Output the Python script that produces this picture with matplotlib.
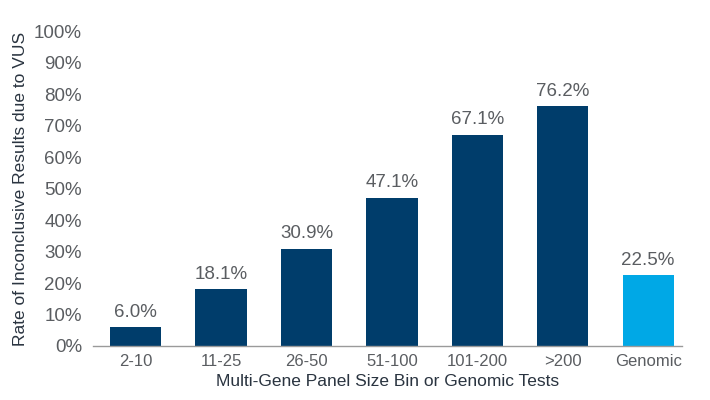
import matplotlib.pyplot as plt
from matplotlib.ticker import PercentFormatter

# ---------- data ----------
categories = ["2-10", "11-25", "26-50", "51-100", "101-200", ">200", "Genomic"]
rates = [6.0, 18.1, 30.9, 47.1, 67.1, 76.2, 22.5]
labels = ["6.0%", "18.1%", "30.9%", "47.1%", "67.1%", "76.2%", "22.5%"]

NAVY = "#003d6b"
SKY = "#00a8e6"
GREY = "#5a5d61"
DARK = "#2a3440"

plt.rcParams["font.family"] = ["Liberation Sans", "DejaVu Sans"]

fig = plt.figure(figsize=(7.1, 4.0), dpi=100)
ax = fig.add_axes([0.131, 0.135, 0.830, 0.787])

colors = [NAVY] * (len(categories) - 1) + [SKY]
x = range(len(categories))
bars = ax.bar(x, rates, width=0.6, color=colors)

for b, lab in zip(bars, labels):
    ax.text(b.get_x() + b.get_width() / 2, b.get_height() + 2.0, lab,
            ha="center", va="bottom", fontsize=13.5, color=GREY)

ax.set_xlim(-0.5, len(categories) - 0.6)
ax.set_ylim(0, 100)
ax.set_yticks(range(0, 101, 10))
ax.yaxis.set_major_formatter(PercentFormatter(decimals=0))
ax.set_xticks(list(x))
ax.set_xticklabels(categories)

for s in ["top", "right", "left"]:
    ax.spines[s].set_visible(False)
ax.spines["bottom"].set_color("#9a9a9a")
ax.spines["bottom"].set_linewidth(1.0)
ax.tick_params(axis="y", length=0, labelsize=13.5, colors=GREY, pad=8)
ax.tick_params(axis="x", length=0, labelsize=12, colors=GREY, pad=6)

ax.set_ylabel("Rate of Inconclusive Results due to VUS", fontsize=12.5,
              color=DARK, labelpad=4)
ax.set_xlabel("Multi-Gene Panel Size Bin or Genomic Tests", fontsize=12.5,
              color=DARK, labelpad=3)

fig.savefig("out.png", dpi=100, facecolor="white")
